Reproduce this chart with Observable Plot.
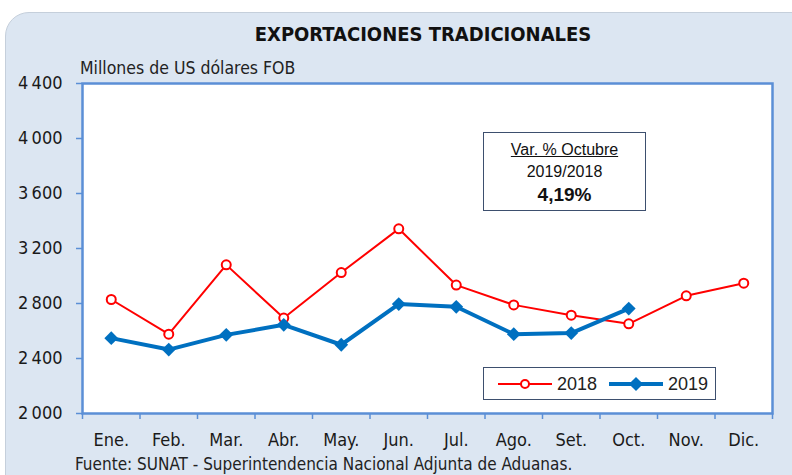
<!DOCTYPE html>
<html>
<head>
<meta charset="utf-8">
<script src="https://cdn.jsdelivr.net/npm/d3@7"></script>
<script src="https://cdn.jsdelivr.net/npm/@observablehq/plot@0.6"></script>
<style>
  body { margin: 0; background: #ffffff; }
  #wrap { position: relative; width: 792px; height: 475px; overflow: hidden; background: #fff;
          font-family: "Liberation Sans Narrow", "DejaVu Sans Condensed", "Roboto Condensed", sans-serif; }
  #panel { position: absolute; left: 5px; top: 12px; width: 820px; height: 500px; background: #dce6f2;
           border: 1px solid #c5cfdb; border-radius: 24px; }
  .abs { position: absolute; white-space: nowrap; }
  #title { left: 0; width: 846px; top: 22px; text-align: center; font-weight: bold; font-size: 20px; color: #111; }
  #subtitle { left: 80px; top: 58px; font-size: 17.5px; color: #222; }
  #footer { left: 75px; top: 454px; font-size: 17px; color: #222; }
  #chart { position: absolute; left: 0; top: 0; }
  #note { left: 483px; top: 132px; width: 161px; height: 77px; border: 1.5px solid #3d4f6e; background: #fff;
          font-family: "Liberation Sans", Arial, sans-serif; text-align: center; color: #111; }
  #legend { left: 483px; top: 367px; width: 231px; height: 31px; border: 1.5px solid #3d4f6e; background: #fff;
            font-family: "Liberation Sans", Arial, sans-serif; }
</style>
</head>
<body>
<div id="wrap">
  <div id="panel"></div>
  <div id="title" class="abs">EXPORTACIONES TRADICIONALES</div>
  <div id="subtitle" class="abs">Millones de US dólares FOB</div>
  <div id="chart"></div>
  <div id="note" class="abs">
    <div style="font-size:16px;line-height:18px;margin-top:8px;text-decoration:underline;">Var. % Octubre</div>
    <div style="font-size:16px;line-height:18px;margin-top:4px;">2019/2018</div>
    <div style="font-size:19px;line-height:22px;font-weight:bold;margin-top:3px;">4,19%</div>
  </div>
  <div id="legend" class="abs"></div>
  <div id="footer" class="abs">Fuente: SUNAT - Superintendencia Nacional Adjunta de Aduanas.</div>
</div>
<script>
const months = ["Ene.", "Feb.", "Mar.", "Abr.", "May.", "Jun.", "Jul.", "Ago.", "Set.", "Oct.", "Nov.", "Dic."];
const values2018 = [2829, 2577, 3081, 2694, 3025, 3343, 2934, 2790, 2715, 2652, 2856, 2948];
const values2019 = [2548, 2465, 2572, 2645, 2500, 2796, 2776, 2577, 2585, 2763];
const yTicks = [2000, 2400, 2800, 3200, 3600, 4000, 4400];
const seriesNames = ["2018", "2019"];
const colors = ["#ff0000", "#0070c0"];

const d2018 = values2018.map((v, i) => ({i: i + 1, v}));
const d2019 = values2019.map((v, i) => ({i: i + 1, v}));
const fmt = d => d3.format(",")(d).replace(/,/g, "\u2009");
const axisColor = "#5b8fd6";
const fontNarrow = '"Liberation Sans Narrow", "DejaVu Sans Condensed", sans-serif';

const chart = Plot.plot({
  width: 792,
  height: 475,
  marginLeft: 82,
  marginRight: 20,
  marginTop: 83,
  marginBottom: 62,
  style: {background: "transparent", fontFamily: fontNarrow, fontSize: "18px", color: "#1a1a1a"},
  x: {domain: [0.5, 12.5]},
  y: {domain: [2000, 4400]},
  marks: [
    Plot.frame({fill: "white"}),
    Plot.axisY({ticks: yTicks, tickFormat: fmt, tickSize: 6, tickPadding: 14, stroke: axisColor, fill: "#1a1a1a", strokeWidth: 1.5, label: null, fontSize: 18}),
    Plot.axisX({ticks: d3.range(1, 13), tickFormat: i => months[i - 1], tickSize: 0, tickPadding: 20, fill: "#1a1a1a", label: null, fontSize: 18}),
    Plot.axisX({ticks: d3.range(0.5, 13, 1), tickFormat: () => "", tickSize: 6, stroke: axisColor, strokeWidth: 1.5, label: null}),
    Plot.line(d2018, {x: "i", y: "v", stroke: colors[0], strokeWidth: 2}),
    Plot.dot(d2018, {x: "i", y: "v", r: 4.5, stroke: colors[0], strokeWidth: 2, fill: "white"}),
    Plot.line(d2019, {x: "i", y: "v", stroke: colors[1], strokeWidth: 4}),
    Plot.dot(d2019, {x: "i", y: "v", r: 5.5, symbol: "square", rotate: 45, fill: colors[1]}),
    Plot.frame({stroke: axisColor, strokeWidth: 2.5})
  ]
});
document.getElementById("chart").appendChild(chart);

// legend
const lg = d3.select("#legend").append("svg").attr("width", 231).attr("height", 31);
const items = [
  {name: seriesNames[0], color: colors[0], x0: 14, marker: "circle", w: 2},
  {name: seriesNames[1], color: colors[1], x0: 125, marker: "diamond", w: 4}
];
items.forEach(it => {
  lg.append("line").attr("x1", it.x0).attr("x2", it.x0 + 54).attr("y1", 16).attr("y2", 16)
    .attr("stroke", it.color).attr("stroke-width", it.w);
  if (it.marker === "circle") {
    lg.append("circle").attr("cx", it.x0 + 27).attr("cy", 16).attr("r", 4).attr("fill", "white")
      .attr("stroke", it.color).attr("stroke-width", 2);
  } else {
    lg.append("path").attr("d", d3.symbol(d3.symbolSquare, 100)()).attr("transform", `translate(${it.x0 + 27},16) rotate(45)`)
      .attr("fill", it.color);
  }
  lg.append("text").attr("x", it.x0 + 59).attr("y", 16).attr("dy", "0.35em").attr("font-size", 18)
    .attr("fill", "#222").text(it.name);
});
</script>
</body>
</html>
